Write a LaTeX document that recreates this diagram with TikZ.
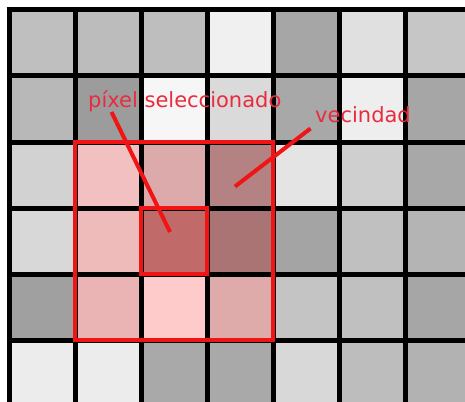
\documentclass[tikz,border=0pt]{standalone}
\usepackage{fontspec}
\setmainfont{DejaVu Sans}
\usepackage{xcolor}
\usepackage{tikz}
\definecolor{markred}{RGB}{240,20,20}
\definecolor{labelred}{RGB}{232,44,62}
\definecolor{pinkA}{RGB}{242,192,192}
\definecolor{pinkB}{RGB}{220,170,170}
\definecolor{pinkC}{RGB}{180,130,130}
\definecolor{pinkD}{RGB}{238,186,186}
\definecolor{pinkE}{RGB}{192,106,106}
\definecolor{pinkF}{RGB}{170,116,116}
\definecolor{pinkG}{RGB}{234,180,180}
\definecolor{pinkH}{RGB}{255,202,202}
\definecolor{pinkI}{RGB}{222,170,170}

\begin{document}
\begin{tikzpicture}[x=1pt,y=-1pt,
  gridline/.style={black,line width=5pt},
  frame/.style={markred,line width=4pt},
  pointer/.style={markred,line width=4pt},
  tag/.style={labelred,font=\fontsize{21}{25}\selectfont,inner sep=0pt,anchor=base west}]
  \useasboundingbox (0,0) rectangle (465,401);
  \clip (0,0) rectangle (465,401);
  % gray cells
  \foreach \r/\vals in {0/{191,188,190,240,166,224,198},
                        1/{184,156,246,218,168,238,166},
                        2/{210,0,0,0,228,207,168},
                        3/{216,0,0,0,164,192,180},
                        4/{160,0,0,0,196,192,166},
                        5/{236,236,169,169,216,189,178}} {
    \foreach \v [count=\c from 0] in \vals {
      \definecolor{cellgray}{RGB}{\v,\v,\v}
      \fill[cellgray] (9+66*\c,10+66*\r) rectangle ++(66,66);
    }
  }
  % neighbourhood cells
  \foreach \c/\r/\col in {1/2/pinkA,2/2/pinkB,3/2/pinkC,
                          1/3/pinkD,2/3/pinkE,3/3/pinkF,
                          1/4/pinkG,2/4/pinkH,3/4/pinkI} {
    \fill[\col] (9+66*\c,10+66*\r) rectangle ++(66,66);
  }
  % grid
  \foreach \i in {0,...,6}
    \draw[gridline] (9+66*\i,7.5) -- (9+66*\i,410);
  \foreach \i in {0,...,5}
    \draw[gridline] (6.5,10+66*\i) -- (470,10+66*\i);
  % frames
  \draw[frame] (75,142) rectangle (273,340);
  \draw[frame] (141,208) rectangle (207,274);
  % labels
  \node[tag] (pixlabel) at (88,107) {píxel seleccionado};
  \node[tag] (veclabel) at (315,122) {vecindad};
  \coordinate (pixtail) at (111.5,112);
  \coordinate (pixtip) at (170,232);
  \coordinate (vectail) at (310.5,128.5);
  \coordinate (vectip) at (235,186.5);
  \draw[pointer] (pixtail) -- (pixtip);
  \draw[pointer] (vectail) -- (vectip);
\end{tikzpicture}
\end{document}
